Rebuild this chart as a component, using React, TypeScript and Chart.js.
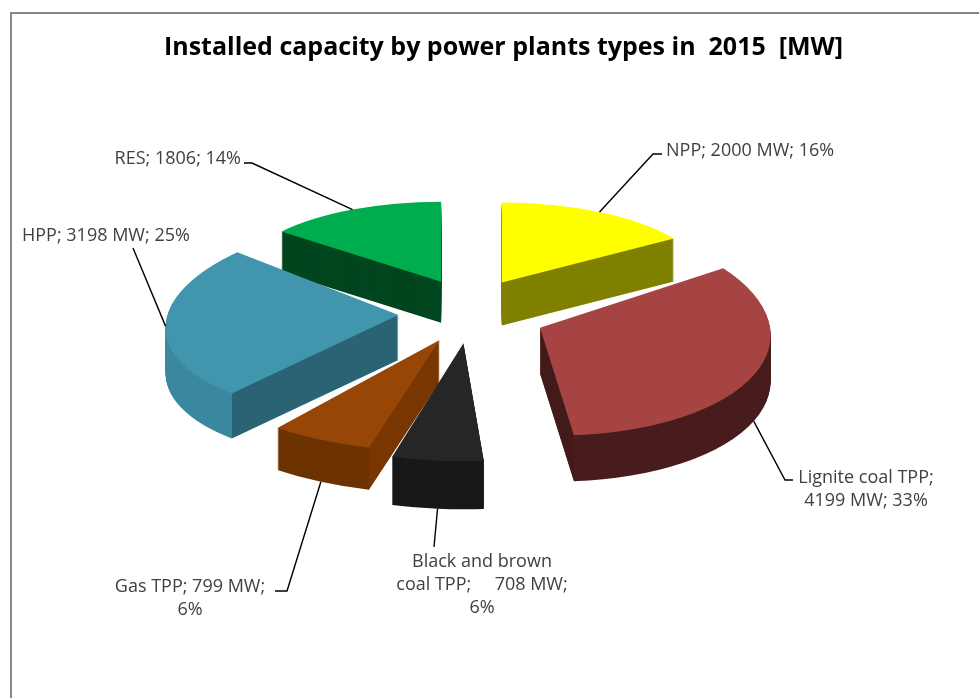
import React, { useEffect, useRef } from 'react';
import { Chart, registerables } from 'chart.js';

Chart.register(...registerables);

// ---------- data ----------
const categories = ['NPP', 'Lignite coal TPP', 'Black and brown coal TPP', 'Gas TPP', 'HPP', 'RES'];
const capacityMW = [2000, 4199, 708, 799, 3198, 1806];
const labelLines: string[][] = [
  ['NPP; 2000 MW; 16%'],
  ['Lignite coal TPP;', '4199 MW; 33%'],
  ['Black and brown', 'coal TPP;     708 MW;', '6%'],
  ['Gas TPP; 799 MW;', '6%'],
  ['HPP; 3198 MW; 25%'],
  ['RES; 1806; 14%'],
];
const titleText = 'Installed capacity by power plants types in  2015  [MW]';

// ---------- style ----------
const topColors = ['#ffff00', '#a54442', '#262626', '#974606', '#4195ad', '#00ad4e'];
const outerSideColors = ['#808000', '#481c1c', '#181818', '#6c3200', '#3a88a0', '#00461f'];
const cutSideColors = ['#808000', '#431a1a', '#181818', '#793600', '#2a6373', '#00461f'];

// 3D projection layout (screen px)
const PIE_CENTER = { x: 470, y: 311 };
const TILT = 0.485;
const sliceExplode = [67, 78, 67, 67, 72, 67];
const sliceRadiusX = [206, 230, 265, 262, 231, 205];
const sliceRadiusY = [80, 108, 118, 112, 100, 80];
const sliceShear = [0, 0.15, 0, 0, -0.3, 0];
const sliceDepth = [43, 46, 48, 42, 45, 41];

// label layout: path points after the anchor, text anchor
type LabelLayout = { path: [number, number][]; tx: number; ty: number; align: CanvasTextAlign };
const labelLayout: LabelLayout[] = [
  { path: [[653, 154], [662, 154]], tx: 666, ty: 151, align: 'left' },
  { path: [[785, 480], [793, 480]], tx: 866, ty: 478, align: 'center' },
  { path: [[434, 547]], tx: 482, ty: 562, align: 'center' },
  { path: [[287, 591], [275, 591]], tx: 190, ty: 587, align: 'center' },
  { path: [[133, 248]], tx: 22, ty: 236, align: 'left' },
  { path: [[252, 163], [244, 163]], tx: 241, ty: 159, align: 'right' },
];
const LINE_H = 23;

function sliceGeometry(chart: any) {
  const meta = chart.getDatasetMeta(0);
  return meta.data.map((arc: any, i: number) => {
    const p = arc.getProps(['x', 'y', 'startAngle', 'endAngle', 'outerRadius'], true);
    const mid = (p.startAngle + p.endAngle) / 2;
    const ax = PIE_CENTER.x + sliceExplode[i] * Math.cos(mid);
    const ay = PIE_CENTER.y + sliceExplode[i] * TILT * Math.sin(mid);
    const sx = sliceRadiusX[i] / p.outerRadius;
    const sy = sliceRadiusY[i] / p.outerRadius;
    const sh = sliceShear[i] * sy;
    return {
      arc, p, mid, ax, ay, sx, sy, sh,
      tx: ax - sx * p.x - sh * p.y,
      ty: ay - sy * p.y,
    };
  });
}

function sideFill(ctx: CanvasRenderingContext2D, g: any, i: number) {
  const outer = outerSideColors[i];
  const cut = cutSideColors[i];
  if (outer === cut) return outer;
  const { p } = g;
  const startNormal = Math.sin(p.startAngle - Math.PI / 2);
  const endNormal = Math.sin(p.endAngle + Math.PI / 2);
  const edgeAngle = startNormal > endNormal ? p.startAngle : p.endAngle;
  const cornerX = p.x + p.outerRadius * Math.cos(edgeAngle);
  const cornerY = p.y + p.outerRadius * Math.sin(edgeAngle);
  const towardCenter = p.x > cornerX;
  // gradient axis follows the sheared horizontal so the colour change sits on the corner
  const x0 = p.x - p.outerRadius * 1.2;
  const x1 = p.x + p.outerRadius * 1.2;
  const grad = ctx.createLinearGradient(x0, cornerY, x1, cornerY);
  const t = (cornerX - x0) / (x1 - x0);
  if (towardCenter) {
    grad.addColorStop(0, outer);
    grad.addColorStop(Math.max(0, t - 0.001), outer);
    grad.addColorStop(Math.min(1, t + 0.001), cut);
    grad.addColorStop(1, cut);
  } else {
    grad.addColorStop(0, cut);
    grad.addColorStop(Math.max(0, t - 0.001), cut);
    grad.addColorStop(Math.min(1, t + 0.001), outer);
    grad.addColorStop(1, outer);
  }
  return grad;
}

const pie3dPlugin = {
  id: 'pie3d',
  beforeDraw(chart: any) {
    const ctx = chart.ctx as CanvasRenderingContext2D;
    ctx.save();
    ctx.strokeStyle = '#868686';
    ctx.lineWidth = 2;
    ctx.beginPath();
    ctx.moveTo(11, chart.height + 2);
    ctx.lineTo(11, 13);
    ctx.lineTo(chart.width + 2, 13);
    ctx.stroke();
    ctx.restore();
  },
  beforeDatasetsDraw(chart: any) {
    const ctx = chart.ctx as CanvasRenderingContext2D;
    const dpr = chart.currentDevicePixelRatio || 1;
    const geo = sliceGeometry(chart);
    const maxD = Math.max(...sliceDepth);
    const fills = geo.map((g: any, i: number) => sideFill(ctx, g, i));
    for (let d = maxD; d >= 1; d--) {
      geo.forEach((g: any, i: number) => {
        if (d > sliceDepth[i]) return;
        ctx.save();
        ctx.setTransform(dpr * g.sx, 0, dpr * g.sh, dpr * g.sy, dpr * g.tx, dpr * (g.ty + d));
        const orig = g.arc.options;
        g.arc.options = { ...orig, backgroundColor: fills[i], borderWidth: 0 };
        g.arc.draw(ctx);
        g.arc.options = orig;
        ctx.restore();
      });
    }
    geo.forEach((g: any) => {
      ctx.save();
      ctx.setTransform(dpr * g.sx, 0, dpr * g.sh, dpr * g.sy, dpr * g.tx, dpr * g.ty);
      g.arc.draw(ctx);
      ctx.restore();
    });
    return false;
  },
  afterDraw(chart: any) {
    const ctx = chart.ctx as CanvasRenderingContext2D;
    const geo = sliceGeometry(chart);
    ctx.save();
    ctx.strokeStyle = '#000000';
    ctx.lineWidth = 1.4;
    ctx.fillStyle = '#404040';
    ctx.font = '18px "Open Sans"';
    ctx.textBaseline = 'middle';
    geo.forEach((g: any, i: number) => {
      const s = Math.sin(g.mid);
      const dy = sliceRadiusY[i] * s;
      const startX = g.ax + sliceRadiusX[i] * Math.cos(g.mid) + sliceShear[i] * dy;
      const startY = g.ay + dy + (s > 0.3 ? sliceDepth[i] : 0);
      const lay = labelLayout[i];
      ctx.beginPath();
      ctx.moveTo(startX, startY);
      lay.path.forEach(([x, y]) => ctx.lineTo(x, y));
      ctx.stroke();
      ctx.textAlign = lay.align;
      labelLines[i].forEach((line, k) => ctx.fillText(line, lay.tx, lay.ty + k * LINE_H));
    });
    ctx.restore();
  },
};

export default function App() {
  const ref = useRef<HTMLCanvasElement | null>(null);
  useEffect(() => {
    if (!ref.current) return;
    const chart = new Chart(ref.current, {
      type: 'pie',
      data: {
        labels: categories,
        datasets: [
          {
            data: capacityMW,
            backgroundColor: topColors,
            borderWidth: 0,
          },
        ],
      },
      options: {
        responsive: false,
        maintainAspectRatio: false,
        animation: false,
        events: [],
        radius: 100,
        layout: { padding: { left: 28, top: 0, right: 0, bottom: 0 } },
        plugins: {
          legend: { display: false },
          tooltip: { enabled: false },
          title: {
            display: true,
            text: titleText,
            color: '#000000',
            font: { family: 'Open Sans', size: 25, weight: 'bold' },
            padding: { top: 33, bottom: 10 },
          },
        },
      } as any,
      plugins: [pie3dPlugin],
    });
    return () => chart.destroy();
  }, []);
  return (
    <div style={{ position: 'fixed', left: 0, top: 0, width: 979, height: 698, background: '#ffffff' }}>
      <canvas ref={ref} width={979} height={698} style={{ display: 'block' }} />
    </div>
  );
}
